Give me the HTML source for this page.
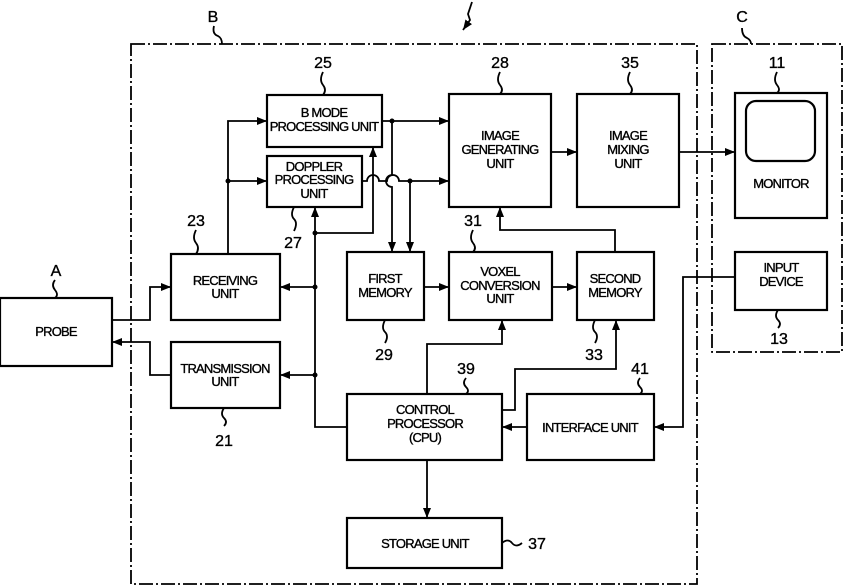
<!DOCTYPE html>
<html><head><meta charset="utf-8"><style>html,body{margin:0;padding:0;background:#fff}svg{display:block}text{font-family:"Liberation Sans",sans-serif;fill:#000}.t text{stroke:#000;stroke-width:0.35}</style></head><body>
<svg width="843" height="586" viewBox="0 0 843 586" xmlns="http://www.w3.org/2000/svg">
<defs><marker id="a" viewBox="0 0 10 10" refX="10" refY="5" markerWidth="10" markerHeight="10" orient="auto" markerUnits="userSpaceOnUse"><path d="M0,1 L10,5 L0,9 z" fill="#000"/></marker></defs>
<g fill="none" stroke="#000" stroke-width="1.8">
<rect x="131" y="44" width="566" height="540" stroke-dasharray="14,3,2,3"/>
<rect x="712" y="44" width="130" height="308" stroke-dasharray="14,3,2,3"/>
</g>
<g fill="#fff" stroke="#000" stroke-width="2.2">
<rect x="0" y="298" width="112" height="68"/>
<rect x="171" y="254" width="109" height="66"/>
<rect x="171" y="342" width="109" height="66"/>
<rect x="267" y="95" width="115" height="52"/>
<rect x="267" y="156" width="95" height="51"/>
<rect x="449" y="94" width="102" height="113"/>
<rect x="577" y="94" width="102" height="113"/>
<rect x="347" y="252" width="77" height="68"/>
<rect x="449" y="252" width="103" height="68"/>
<rect x="577" y="252" width="77" height="68"/>
<rect x="347" y="394" width="155" height="66"/>
<rect x="527" y="394" width="127" height="66"/>
<rect x="347" y="518" width="155" height="50"/>
<rect x="735" y="93" width="92" height="125"/>
<rect x="746" y="101" width="69" height="60" rx="10"/>
<rect x="735" y="252" width="92" height="58"/>
</g>
<g fill="none" stroke="#000" stroke-width="1.8">
<polyline points="112,320 150,320 150,287 171,287" marker-end="url(#a)"/>
<polyline points="171,375 150,375 150,342 112,342" marker-end="url(#a)"/>
<polyline points="228,254 228,121 267,121" marker-end="url(#a)"/>
<polyline points="228,181 267,181" marker-end="url(#a)"/>
<polyline points="382,121 449,121" marker-end="url(#a)"/>
<path d="M392,121 V175 a6,6 0 0 0 0,12 V252" marker-end="url(#a)"/>
<path d="M362,181 H367 a6,6 0 0 1 12,0 H387 a6,6 0 0 1 12,0 H449" marker-end="url(#a)"/>
<polyline points="410,181 410,252" marker-end="url(#a)"/>
<polyline points="347,427 315,427 315,207" marker-end="url(#a)"/>
<polyline points="315,233 373,233 373,147" marker-end="url(#a)"/>
<polyline points="315,287 280,287" marker-end="url(#a)"/>
<polyline points="315,375 280,375" marker-end="url(#a)"/>
<polyline points="424,287 449,287" marker-end="url(#a)"/>
<polyline points="552,287 577,287" marker-end="url(#a)"/>
<polyline points="615,252 615,230 500,230 500,207" marker-end="url(#a)"/>
<polyline points="427,394 427,344 502,344 502,320" marker-end="url(#a)"/>
<polyline points="502,410 515,410 515,369 616,369 616,320" marker-end="url(#a)"/>
<polyline points="527,427 502,427" marker-end="url(#a)"/>
<polyline points="735,277 683,277 683,427 654,427" marker-end="url(#a)"/>
<polyline points="551,152 577,152" marker-end="url(#a)"/>
<polyline points="679,152 735,152" marker-end="url(#a)"/>
<polyline points="427,460 427,518" marker-end="url(#a)"/>
<polyline points="472,2 468,14 470,20 463,30" marker-end="url(#a)"/>
<path d="M55,280 q-4,5 0,10 q4,5 0,8"/>
<path d="M214,26 q-2,8 4,10 q4,2 4,8"/>
<path d="M742,28 q0,8 5,10 q4,2 4,6"/>
<path d="M323,72 q-4,8 0,13 q4,5 0,10"/>
<path d="M500,72 q-4,8 0,13 q4,5 0,9"/>
<path d="M630,72 q-4,8 0,13 q4,5 0,9"/>
<path d="M777,72 q-4,8 0,13 q4,5 0,8"/>
<path d="M196,230 q-4,8 0,13 q4,5 0,11"/>
<path d="M473,230 q-4,8 0,13 q4,5 0,9"/>
<path d="M294,207 q-4,8 0,12 q4,4 0,12"/>
<path d="M385,320 q-4,8 0,12 q4,4 0,11"/>
<path d="M595,320 q-4,8 0,12 q4,4 0,11"/>
<path d="M466,378 q-4,5 0,9 q4,4 0,7"/>
<path d="M640,378 q-4,5 0,9 q4,4 0,7"/>
<path d="M778,310 q-4,6 0,10 q4,4 0,8"/>
<path d="M224,408 q-4,6 0,10 q4,4 0,8"/>
<path d="M502,543 q6,-5 10,0 q4,5 10,0"/>
</g>
<g fill="#000">
<circle cx="228" cy="181" r="2.5"/><circle cx="392" cy="121" r="2.5"/><circle cx="410" cy="181" r="2.5"/>
<circle cx="315" cy="233" r="2.5"/><circle cx="315" cy="287" r="2.5"/><circle cx="315" cy="375" r="2.5"/>
</g>
<g class="t" font-size="13" text-anchor="middle" style="letter-spacing:-0.8px">
<text x="56" y="336">PROBE</text>
<text x="225" y="285">RECEIVING</text><text x="225" y="298">UNIT</text>
<text x="225" y="373">TRANSMISSION</text><text x="225" y="386">UNIT</text>
<text x="324" y="117">B MODE</text><text x="324" y="131">PROCESSING UNIT</text>
<text x="314" y="171">DOPPLER</text><text x="314" y="184">PROCESSING</text><text x="314" y="198">UNIT</text>
<text x="500" y="140">IMAGE</text><text x="500" y="154">GENERATING</text><text x="500" y="168">UNIT</text>
<text x="628" y="140">IMAGE</text><text x="628" y="154">MIXING</text><text x="628" y="168">UNIT</text>
<text x="385" y="283">FIRST</text><text x="385" y="297">MEMORY</text>
<text x="500" y="276">VOXEL</text><text x="500" y="290">CONVERSION</text><text x="500" y="303">UNIT</text>
<text x="615" y="283">SECOND</text><text x="615" y="297">MEMORY</text>
<text x="425" y="414">CONTROL</text><text x="425" y="428">PROCESSOR</text><text x="425" y="442">(CPU)</text>
<text x="590" y="432">INTERFACE UNIT</text>
<text x="425" y="548">STORAGE UNIT</text>
<text x="781" y="188">MONITOR</text>
<text x="781" y="272">INPUT</text><text x="781" y="286">DEVICE</text>
</g>
<g class="t" font-size="16" text-anchor="middle">
<text x="56" y="276">A</text><text x="213" y="22">B</text><text x="742" y="22">C</text>
<text x="323" y="68">25</text><text x="500" y="68">28</text><text x="630" y="68">35</text><text x="777" y="68">11</text>
<text x="196" y="226">23</text><text x="473" y="226">31</text><text x="293" y="248">27</text>
<text x="384" y="360">29</text><text x="594" y="360">33</text><text x="466" y="374">39</text><text x="640" y="374">41</text>
<text x="779" y="344">13</text><text x="224" y="446">21</text><text x="537" y="549">37</text>
</g>
</svg>
</body></html>
